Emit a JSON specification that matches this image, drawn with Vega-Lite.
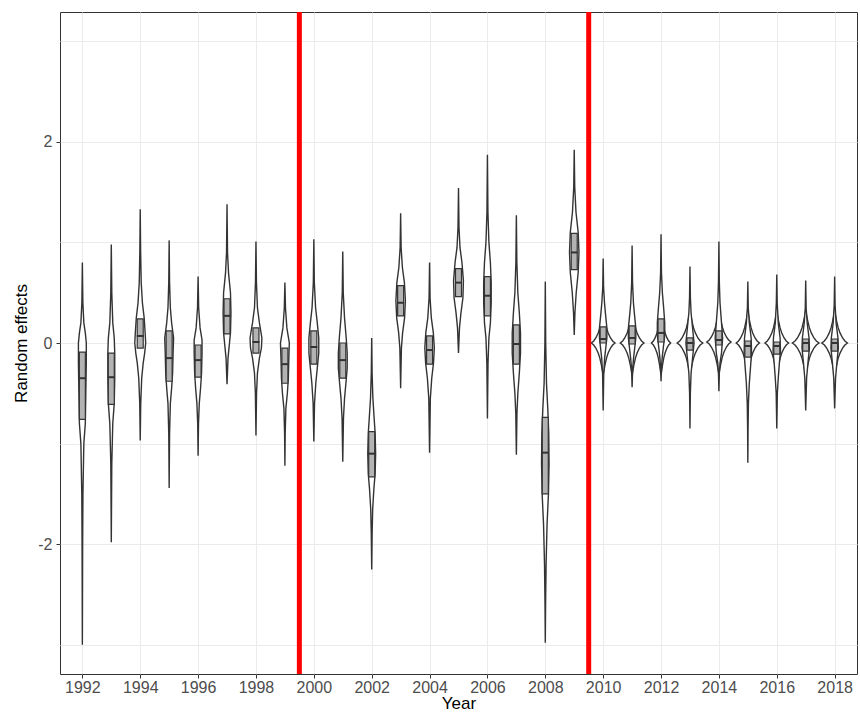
{
  "$schema": "https://vega.github.io/schema/vega-lite/v6.json",
  "width": 797,
  "height": 662,
  "autosize": {"type": "none"},
  "padding": {"left": 60, "top": 12, "right": 3, "bottom": 39},
  "background": "white",
  "datasets": {
    "violin": [
      {"yr":1992,"y":0.8,"w":0},{"yr":1992,"y":0.4,"w":0.017},{"yr":1992,"y":0.2,"w":0.051},{"yr":1992,"y":0.1,"w":0.102},{"yr":1992,"y":0,"w":0.136},{"yr":1992,"y":-0.2,"w":0.136},{"yr":1992,"y":-0.5,"w":0.119},{"yr":1992,"y":-0.8,"w":0.102},{"yr":1992,"y":-1,"w":0.051},{"yr":1992,"y":-1.5,"w":0.02},{"yr":1992,"y":-2,"w":0.01},{"yr":1992,"y":-3,"w":0},
      {"yr":1993,"y":0.98,"w":0},{"yr":1993,"y":0.5,"w":0.017},{"yr":1993,"y":0.2,"w":0.051},{"yr":1993,"y":0.05,"w":0.102},{"yr":1993,"y":-0.1,"w":0.119},{"yr":1993,"y":-0.35,"w":0.119},{"yr":1993,"y":-0.6,"w":0.102},{"yr":1993,"y":-0.8,"w":0.051},{"yr":1993,"y":-1.2,"w":0.017},{"yr":1993,"y":-1.98,"w":0},
      {"yr":1994,"y":1.33,"w":0},{"yr":1994,"y":0.9,"w":0.014},{"yr":1994,"y":0.6,"w":0.034},{"yr":1994,"y":0.4,"w":0.075},{"yr":1994,"y":0.25,"w":0.136},{"yr":1994,"y":0.1,"w":0.17},{"yr":1994,"y":0,"w":0.188},{"yr":1994,"y":-0.1,"w":0.153},{"yr":1994,"y":-0.2,"w":0.102},{"yr":1994,"y":-0.35,"w":0.051},{"yr":1994,"y":-0.6,"w":0.017},{"yr":1994,"y":-0.97,"w":0},
      {"yr":1995,"y":1.02,"w":0},{"yr":1995,"y":0.6,"w":0.014},{"yr":1995,"y":0.35,"w":0.041},{"yr":1995,"y":0.2,"w":0.085},{"yr":1995,"y":0.05,"w":0.153},{"yr":1995,"y":-0.1,"w":0.136},{"yr":1995,"y":-0.3,"w":0.119},{"yr":1995,"y":-0.45,"w":0.085},{"yr":1995,"y":-0.6,"w":0.041},{"yr":1995,"y":-0.9,"w":0.014},{"yr":1995,"y":-1.44,"w":0},
      {"yr":1996,"y":0.66,"w":0},{"yr":1996,"y":0.35,"w":0.02},{"yr":1996,"y":0.15,"w":0.068},{"yr":1996,"y":0.03,"w":0.136},{"yr":1996,"y":-0.1,"w":0.136},{"yr":1996,"y":-0.3,"w":0.119},{"yr":1996,"y":-0.45,"w":0.085},{"yr":1996,"y":-0.6,"w":0.041},{"yr":1996,"y":-0.8,"w":0.014},{"yr":1996,"y":-1.12,"w":0},
      {"yr":1997,"y":1.38,"w":0},{"yr":1997,"y":0.9,"w":0.017},{"yr":1997,"y":0.7,"w":0.051},{"yr":1997,"y":0.5,"w":0.119},{"yr":1997,"y":0.3,"w":0.136},{"yr":1997,"y":0.1,"w":0.119},{"yr":1997,"y":0,"w":0.085},{"yr":1997,"y":-0.15,"w":0.034},{"yr":1997,"y":-0.41,"w":0},
      {"yr":1998,"y":1.01,"w":0},{"yr":1998,"y":0.6,"w":0.017},{"yr":1998,"y":0.35,"w":0.051},{"yr":1998,"y":0.2,"w":0.119},{"yr":1998,"y":0.05,"w":0.205},{"yr":1998,"y":-0.05,"w":0.188},{"yr":1998,"y":-0.15,"w":0.119},{"yr":1998,"y":-0.3,"w":0.051},{"yr":1998,"y":-0.5,"w":0.02},{"yr":1998,"y":-0.92,"w":0},
      {"yr":1999,"y":0.6,"w":0},{"yr":1999,"y":0.35,"w":0.02},{"yr":1999,"y":0.15,"w":0.068},{"yr":1999,"y":0,"w":0.153},{"yr":1999,"y":-0.15,"w":0.136},{"yr":1999,"y":-0.35,"w":0.119},{"yr":1999,"y":-0.5,"w":0.085},{"yr":1999,"y":-0.65,"w":0.034},{"yr":1999,"y":-0.9,"w":0.01},{"yr":1999,"y":-1.22,"w":0},
      {"yr":2000,"y":1.03,"w":0},{"yr":2000,"y":0.6,"w":0.017},{"yr":2000,"y":0.35,"w":0.061},{"yr":2000,"y":0.2,"w":0.119},{"yr":2000,"y":0.05,"w":0.17},{"yr":2000,"y":-0.1,"w":0.17},{"yr":2000,"y":-0.25,"w":0.119},{"yr":2000,"y":-0.4,"w":0.068},{"yr":2000,"y":-0.6,"w":0.024},{"yr":2000,"y":-0.98,"w":0},
      {"yr":2001,"y":0.91,"w":0},{"yr":2001,"y":0.5,"w":0.017},{"yr":2001,"y":0.25,"w":0.061},{"yr":2001,"y":0.05,"w":0.119},{"yr":2001,"y":-0.1,"w":0.153},{"yr":2001,"y":-0.25,"w":0.153},{"yr":2001,"y":-0.4,"w":0.109},{"yr":2001,"y":-0.55,"w":0.061},{"yr":2001,"y":-0.75,"w":0.024},{"yr":2001,"y":-1.18,"w":0},
      {"yr":2002,"y":0.05,"w":0},{"yr":2002,"y":-0.3,"w":0.014},{"yr":2002,"y":-0.55,"w":0.041},{"yr":2002,"y":-0.75,"w":0.085},{"yr":2002,"y":-0.9,"w":0.119},{"yr":2002,"y":-1.1,"w":0.136},{"yr":2002,"y":-1.3,"w":0.119},{"yr":2002,"y":-1.45,"w":0.075},{"yr":2002,"y":-1.65,"w":0.034},{"yr":2002,"y":-1.9,"w":0.014},{"yr":2002,"y":-2.25,"w":0},
      {"yr":2003,"y":1.29,"w":0},{"yr":2003,"y":0.95,"w":0.017},{"yr":2003,"y":0.75,"w":0.061},{"yr":2003,"y":0.6,"w":0.13},{"yr":2003,"y":0.42,"w":0.164},{"yr":2003,"y":0.25,"w":0.136},{"yr":2003,"y":0.1,"w":0.068},{"yr":2003,"y":-0.05,"w":0.027},{"yr":2003,"y":-0.45,"w":0},
      {"yr":2004,"y":0.8,"w":0},{"yr":2004,"y":0.45,"w":0.017},{"yr":2004,"y":0.25,"w":0.061},{"yr":2004,"y":0.1,"w":0.13},{"yr":2004,"y":-0.05,"w":0.164},{"yr":2004,"y":-0.2,"w":0.136},{"yr":2004,"y":-0.35,"w":0.075},{"yr":2004,"y":-0.55,"w":0.027},{"yr":2004,"y":-1.09,"w":0},
      {"yr":2005,"y":1.54,"w":0},{"yr":2005,"y":1.15,"w":0.017},{"yr":2005,"y":0.95,"w":0.051},{"yr":2005,"y":0.8,"w":0.119},{"yr":2005,"y":0.62,"w":0.17},{"yr":2005,"y":0.45,"w":0.153},{"yr":2005,"y":0.3,"w":0.085},{"yr":2005,"y":0.15,"w":0.034},{"yr":2005,"y":-0.1,"w":0},
      {"yr":2006,"y":1.87,"w":0},{"yr":2006,"y":1.3,"w":0.017},{"yr":2006,"y":1,"w":0.051},{"yr":2006,"y":0.8,"w":0.102},{"yr":2006,"y":0.6,"w":0.13},{"yr":2006,"y":0.4,"w":0.13},{"yr":2006,"y":0.2,"w":0.102},{"yr":2006,"y":0.05,"w":0.051},{"yr":2006,"y":-0.2,"w":0.02},{"yr":2006,"y":-0.75,"w":0},
      {"yr":2007,"y":1.27,"w":0},{"yr":2007,"y":0.8,"w":0.017},{"yr":2007,"y":0.5,"w":0.051},{"yr":2007,"y":0.3,"w":0.102},{"yr":2007,"y":0.1,"w":0.143},{"yr":2007,"y":-0.1,"w":0.143},{"yr":2007,"y":-0.3,"w":0.102},{"yr":2007,"y":-0.5,"w":0.051},{"yr":2007,"y":-0.7,"w":0.02},{"yr":2007,"y":-1.11,"w":0},
      {"yr":2008,"y":0.61,"w":0},{"yr":2008,"y":0,"w":0.014},{"yr":2008,"y":-0.4,"w":0.041},{"yr":2008,"y":-0.65,"w":0.085},{"yr":2008,"y":-0.9,"w":0.119},{"yr":2008,"y":-1.2,"w":0.13},{"yr":2008,"y":-1.5,"w":0.109},{"yr":2008,"y":-1.8,"w":0.061},{"yr":2008,"y":-2.2,"w":0.027},{"yr":2008,"y":-2.6,"w":0.01},{"yr":2008,"y":-2.98,"w":0},
      {"yr":2009,"y":1.92,"w":0},{"yr":2009,"y":1.55,"w":0.017},{"yr":2009,"y":1.3,"w":0.061},{"yr":2009,"y":1.1,"w":0.136},{"yr":2009,"y":0.9,"w":0.164},{"yr":2009,"y":0.7,"w":0.136},{"yr":2009,"y":0.5,"w":0.068},{"yr":2009,"y":0.3,"w":0.024},{"yr":2009,"y":0.08,"w":0},
      {"yr":2010,"y":0.84,"w":0},{"yr":2010,"y":0.55,"w":0.015},{"yr":2010,"y":0.4,"w":0.046},{"yr":2010,"y":0.3,"w":0.077},{"yr":2010,"y":0.15,"w":0.128},{"yr":2010,"y":0.05,"w":0.128},{"yr":2010,"y":-0.05,"w":0.09},{"yr":2010,"y":-0.15,"w":0.051},{"yr":2010,"y":-0.3,"w":0.02},{"yr":2010,"y":-0.67,"w":0},
      {"yr":2011,"y":0.97,"w":0},{"yr":2011,"y":0.6,"w":0.015},{"yr":2011,"y":0.4,"w":0.046},{"yr":2011,"y":0.3,"w":0.077},{"yr":2011,"y":0.15,"w":0.128},{"yr":2011,"y":0.05,"w":0.128},{"yr":2011,"y":-0.05,"w":0.09},{"yr":2011,"y":-0.15,"w":0.051},{"yr":2011,"y":-0.25,"w":0.02},{"yr":2011,"y":-0.44,"w":0},
      {"yr":2012,"y":1.08,"w":0},{"yr":2012,"y":0.7,"w":0.015},{"yr":2012,"y":0.5,"w":0.046},{"yr":2012,"y":0.35,"w":0.09},{"yr":2012,"y":0.2,"w":0.128},{"yr":2012,"y":0.08,"w":0.128},{"yr":2012,"y":-0.05,"w":0.077},{"yr":2012,"y":-0.15,"w":0.038},{"yr":2012,"y":-0.25,"w":0.015},{"yr":2012,"y":-0.38,"w":0},
      {"yr":2013,"y":0.76,"w":0},{"yr":2013,"y":0.45,"w":0.015},{"yr":2013,"y":0.3,"w":0.038},{"yr":2013,"y":0.15,"w":0.09},{"yr":2013,"y":0,"w":0.141},{"yr":2013,"y":-0.15,"w":0.09},{"yr":2013,"y":-0.3,"w":0.038},{"yr":2013,"y":-0.5,"w":0.013},{"yr":2013,"y":-0.85,"w":0},
      {"yr":2014,"y":1.01,"w":0},{"yr":2014,"y":0.6,"w":0.015},{"yr":2014,"y":0.4,"w":0.038},{"yr":2014,"y":0.2,"w":0.09},{"yr":2014,"y":0.05,"w":0.128},{"yr":2014,"y":-0.1,"w":0.09},{"yr":2014,"y":-0.2,"w":0.038},{"yr":2014,"y":-0.3,"w":0.015},{"yr":2014,"y":-0.48,"w":0},
      {"yr":2015,"y":0.61,"w":0},{"yr":2015,"y":0.35,"w":0.015},{"yr":2015,"y":0.2,"w":0.051},{"yr":2015,"y":0.05,"w":0.115},{"yr":2015,"y":-0.1,"w":0.128},{"yr":2015,"y":-0.25,"w":0.09},{"yr":2015,"y":-0.4,"w":0.051},{"yr":2015,"y":-0.6,"w":0.02},{"yr":2015,"y":-0.85,"w":0.008},{"yr":2015,"y":-1.19,"w":0},
      {"yr":2016,"y":0.68,"w":0},{"yr":2016,"y":0.4,"w":0.015},{"yr":2016,"y":0.2,"w":0.051},{"yr":2016,"y":0.05,"w":0.115},{"yr":2016,"y":-0.08,"w":0.128},{"yr":2016,"y":-0.2,"w":0.09},{"yr":2016,"y":-0.35,"w":0.051},{"yr":2016,"y":-0.5,"w":0.02},{"yr":2016,"y":-0.85,"w":0},
      {"yr":2017,"y":0.62,"w":0},{"yr":2017,"y":0.35,"w":0.015},{"yr":2017,"y":0.2,"w":0.051},{"yr":2017,"y":0.05,"w":0.115},{"yr":2017,"y":-0.05,"w":0.128},{"yr":2017,"y":-0.2,"w":0.077},{"yr":2017,"y":-0.35,"w":0.031},{"yr":2017,"y":-0.67,"w":0},
      {"yr":2018,"y":0.66,"w":0},{"yr":2018,"y":0.38,"w":0.015},{"yr":2018,"y":0.2,"w":0.051},{"yr":2018,"y":0.05,"w":0.115},{"yr":2018,"y":-0.05,"w":0.128},{"yr":2018,"y":-0.2,"w":0.077},{"yr":2018,"y":-0.35,"w":0.031},{"yr":2018,"y":-0.65,"w":0}
    ],
    "star": [
      {"yr":2010,"y":0.32,"w":0},{"yr":2010,"y":0.22,"w":0.061},{"yr":2010,"y":0.15,"w":0.115},{"yr":2010,"y":0.1,"w":0.172},{"yr":2010,"y":0.05,"w":0.254},{"yr":2010,"y":0.02,"w":0.327},{"yr":2010,"y":0,"w":0.409},{"yr":2010,"y":-0.02,"w":0.327},{"yr":2010,"y":-0.05,"w":0.254},{"yr":2010,"y":-0.1,"w":0.172},{"yr":2010,"y":-0.15,"w":0.115},{"yr":2010,"y":-0.22,"w":0.061},{"yr":2010,"y":-0.32,"w":0},
      {"yr":2011,"y":0.32,"w":0},{"yr":2011,"y":0.22,"w":0.061},{"yr":2011,"y":0.15,"w":0.115},{"yr":2011,"y":0.1,"w":0.172},{"yr":2011,"y":0.05,"w":0.254},{"yr":2011,"y":0.02,"w":0.327},{"yr":2011,"y":0,"w":0.409},{"yr":2011,"y":-0.02,"w":0.327},{"yr":2011,"y":-0.05,"w":0.254},{"yr":2011,"y":-0.1,"w":0.172},{"yr":2011,"y":-0.15,"w":0.115},{"yr":2011,"y":-0.22,"w":0.061},{"yr":2011,"y":-0.32,"w":0},
      {"yr":2012,"y":0.32,"w":0},{"yr":2012,"y":0.22,"w":0.05},{"yr":2012,"y":0.15,"w":0.093},{"yr":2012,"y":0.1,"w":0.139},{"yr":2012,"y":0.05,"w":0.205},{"yr":2012,"y":0.02,"w":0.265},{"yr":2012,"y":0,"w":0.331},{"yr":2012,"y":-0.02,"w":0.265},{"yr":2012,"y":-0.05,"w":0.205},{"yr":2012,"y":-0.1,"w":0.139},{"yr":2012,"y":-0.15,"w":0.093},{"yr":2012,"y":-0.22,"w":0.05},{"yr":2012,"y":-0.32,"w":0},
      {"yr":2013,"y":0.32,"w":0},{"yr":2013,"y":0.22,"w":0.066},{"yr":2013,"y":0.15,"w":0.124},{"yr":2013,"y":0.1,"w":0.186},{"yr":2013,"y":0.05,"w":0.275},{"yr":2013,"y":0.02,"w":0.354},{"yr":2013,"y":0,"w":0.443},{"yr":2013,"y":-0.02,"w":0.354},{"yr":2013,"y":-0.05,"w":0.275},{"yr":2013,"y":-0.1,"w":0.186},{"yr":2013,"y":-0.15,"w":0.124},{"yr":2013,"y":-0.22,"w":0.066},{"yr":2013,"y":-0.32,"w":0},
      {"yr":2014,"y":0.33,"w":0},{"yr":2014,"y":0.23,"w":0.063},{"yr":2014,"y":0.16,"w":0.117},{"yr":2014,"y":0.11,"w":0.176},{"yr":2014,"y":0.06,"w":0.26},{"yr":2014,"y":0.03,"w":0.335},{"yr":2014,"y":0.01,"w":0.419},{"yr":2014,"y":-0.01,"w":0.335},{"yr":2014,"y":-0.04,"w":0.26},{"yr":2014,"y":-0.09,"w":0.176},{"yr":2014,"y":-0.14,"w":0.117},{"yr":2014,"y":-0.21,"w":0.063},{"yr":2014,"y":-0.31,"w":0},
      {"yr":2015,"y":0.32,"w":0},{"yr":2015,"y":0.22,"w":0.06},{"yr":2015,"y":0.15,"w":0.113},{"yr":2015,"y":0.1,"w":0.169},{"yr":2015,"y":0.05,"w":0.249},{"yr":2015,"y":0.02,"w":0.322},{"yr":2015,"y":0,"w":0.402},{"yr":2015,"y":-0.02,"w":0.322},{"yr":2015,"y":-0.05,"w":0.249},{"yr":2015,"y":-0.1,"w":0.169},{"yr":2015,"y":-0.15,"w":0.113},{"yr":2015,"y":-0.22,"w":0.06},{"yr":2015,"y":-0.32,"w":0},
      {"yr":2016,"y":0.32,"w":0},{"yr":2016,"y":0.22,"w":0.061},{"yr":2016,"y":0.15,"w":0.115},{"yr":2016,"y":0.1,"w":0.172},{"yr":2016,"y":0.05,"w":0.254},{"yr":2016,"y":0.02,"w":0.327},{"yr":2016,"y":0,"w":0.409},{"yr":2016,"y":-0.02,"w":0.327},{"yr":2016,"y":-0.05,"w":0.254},{"yr":2016,"y":-0.1,"w":0.172},{"yr":2016,"y":-0.15,"w":0.115},{"yr":2016,"y":-0.22,"w":0.061},{"yr":2016,"y":-0.32,"w":0},
      {"yr":2017,"y":0.32,"w":0},{"yr":2017,"y":0.22,"w":0.069},{"yr":2017,"y":0.15,"w":0.129},{"yr":2017,"y":0.1,"w":0.193},{"yr":2017,"y":0.05,"w":0.285},{"yr":2017,"y":0.02,"w":0.368},{"yr":2017,"y":0,"w":0.46},{"yr":2017,"y":-0.02,"w":0.368},{"yr":2017,"y":-0.05,"w":0.285},{"yr":2017,"y":-0.1,"w":0.193},{"yr":2017,"y":-0.15,"w":0.129},{"yr":2017,"y":-0.22,"w":0.069},{"yr":2017,"y":-0.32,"w":0},
      {"yr":2018,"y":0.32,"w":0},{"yr":2018,"y":0.22,"w":0.066},{"yr":2018,"y":0.15,"w":0.124},{"yr":2018,"y":0.1,"w":0.186},{"yr":2018,"y":0.05,"w":0.275},{"yr":2018,"y":0.02,"w":0.354},{"yr":2018,"y":0,"w":0.443},{"yr":2018,"y":-0.02,"w":0.354},{"yr":2018,"y":-0.05,"w":0.275},{"yr":2018,"y":-0.1,"w":0.186},{"yr":2018,"y":-0.15,"w":0.124},{"yr":2018,"y":-0.22,"w":0.066},{"yr":2018,"y":-0.32,"w":0}
    ],
    "box": [
      {"yr":1992,"q3":-0.09,"med":-0.35,"q1":-0.76},
      {"yr":1993,"q3":-0.1,"med":-0.34,"q1":-0.61},
      {"yr":1994,"q3":0.24,"med":0.07,"q1":-0.05},
      {"yr":1995,"q3":0.12,"med":-0.15,"q1":-0.38},
      {"yr":1996,"q3":-0.02,"med":-0.17,"q1":-0.34},
      {"yr":1997,"q3":0.44,"med":0.27,"q1":0.09},
      {"yr":1998,"q3":0.15,"med":0.01,"q1":-0.1},
      {"yr":1999,"q3":-0.05,"med":-0.21,"q1":-0.4},
      {"yr":2000,"q3":0.12,"med":-0.04,"q1":-0.21},
      {"yr":2001,"q3":0,"med":-0.17,"q1":-0.35},
      {"yr":2002,"q3":-0.88,"med":-1.1,"q1":-1.33},
      {"yr":2003,"q3":0.57,"med":0.4,"q1":0.27},
      {"yr":2004,"q3":0.07,"med":-0.07,"q1":-0.21},
      {"yr":2005,"q3":0.74,"med":0.6,"q1":0.46},
      {"yr":2006,"q3":0.66,"med":0.47,"q1":0.27},
      {"yr":2007,"q3":0.18,"med":-0.01,"q1":-0.21},
      {"yr":2008,"q3":-0.74,"med":-1.09,"q1":-1.5},
      {"yr":2009,"q3":1.09,"med":0.9,"q1":0.73},
      {"yr":2010,"q3":0.16,"med":0.04,"q1":0},
      {"yr":2011,"q3":0.17,"med":0.05,"q1":-0.01},
      {"yr":2012,"q3":0.24,"med":0.1,"q1":0.01},
      {"yr":2013,"q3":0.05,"med":0,"q1":-0.07},
      {"yr":2014,"q3":0.12,"med":0.03,"q1":-0.02},
      {"yr":2015,"q3":0.02,"med":-0.03,"q1":-0.14},
      {"yr":2016,"q3":0.01,"med":-0.03,"q1":-0.11},
      {"yr":2017,"q3":0.04,"med":0,"q1":-0.08},
      {"yr":2018,"q3":0.04,"med":0,"q1":-0.08}
    ],
    "breaks": [{"at":1999.5},{"at":2009.5}]
  },
  "layer": [
    {
      "data": {"name": "star"},
      "transform": [
        {"calculate": "datum.yr - datum.w", "as": "lo"},
        {"calculate": "datum.yr + datum.w", "as": "hi"}
      ],
      "mark": {"type": "area", "orient": "horizontal", "fill": "white", "fillOpacity": 1, "stroke": "#333333", "strokeWidth": 1.4},
      "encoding": {
        "y": {"field": "y", "type": "quantitative", "title": "Random effects",
              "scale": {"domain": [-3.29, 3.29], "nice": false, "zero": false},
              "axis": {"values": [-3,-2,-1,0,1,2,3], "labelExpr": "datum.value % 2 === 0 ? '' + datum.value : ''",
                       "tickOpacity": {"condition": {"test": "datum.value % 2 === 0", "value": 1}, "value": 0},
                       "labelPadding": 4, "titlePadding": 7}},
        "x": {"field": "lo", "type": "quantitative", "title": "Year", "stack": null,
              "scale": {"domain": [1991.4, 2018.6], "nice": false, "zero": false},
              "axis": {"values": [1992,1993,1994,1995,1996,1997,1998,1999,2000,2001,2002,2003,2004,2005,2006,2007,2008,2009,2010,2011,2012,2013,2014,2015,2016,2017,2018],
                       "labelExpr": "datum.value % 2 === 0 ? '' + datum.value : ''", "labelOverlap": false, "labelFlush": false,
                       "labelPadding": 1, "titlePadding": 0}},
        "x2": {"field": "hi"},
        "detail": {"field": "yr"}
      }
    },
    {
      "data": {"name": "violin"},
      "transform": [
        {"calculate": "datum.yr - datum.w", "as": "lo"},
        {"calculate": "datum.yr + datum.w", "as": "hi"}
      ],
      "mark": {"type": "area", "orient": "horizontal", "fill": "white", "fillOpacity": 1, "stroke": "#333333", "strokeWidth": 1.4},
      "encoding": {
        "y": {"field": "y", "type": "quantitative", "title": "Random effects"},
        "x": {"field": "lo", "type": "quantitative", "title": "Year", "stack": null},
        "x2": {"field": "hi"},
        "detail": {"field": "yr"}
      }
    },
    {
      "data": {"name": "box"},
      "mark": {"type": "bar", "size": 6, "fill": "#b3b3b3", "stroke": "#333333", "strokeWidth": 1.2},
      "encoding": {
        "x": {"field": "yr", "type": "quantitative", "title": "Year"},
        "y": {"field": "q3", "type": "quantitative", "title": "Random effects"},
        "y2": {"field": "q1"}
      }
    },
    {
      "data": {"name": "box"},
      "mark": {"type": "tick", "orient": "horizontal", "size": 7, "thickness": 2, "color": "#333333", "opacity": 1},
      "encoding": {
        "x": {"field": "yr", "type": "quantitative", "title": "Year"},
        "y": {"field": "med", "type": "quantitative", "title": "Random effects"}
      }
    },
    {
      "data": {"name": "breaks"},
      "mark": {"type": "rule", "color": "#ff0000", "strokeWidth": 5},
      "encoding": {
        "x": {"field": "at", "type": "quantitative", "title": "Year"}
      }
    }
  ],
  "config": {
    "view": {"stroke": "#333333", "strokeWidth": 1},
    "axis": {
      "domain": false, "grid": true, "gridColor": "#ebebeb", "gridWidth": 1,
      "tickColor": "#333333", "tickSize": 4, "tickWidth": 1,
      "labelColor": "#4d4d4d", "labelFont": "Liberation Sans", "labelFontSize": 16,
      "titleFont": "Liberation Sans", "titleFontSize": 17, "titleFontWeight": "normal", "titleColor": "#000000"
    }
  }
}
